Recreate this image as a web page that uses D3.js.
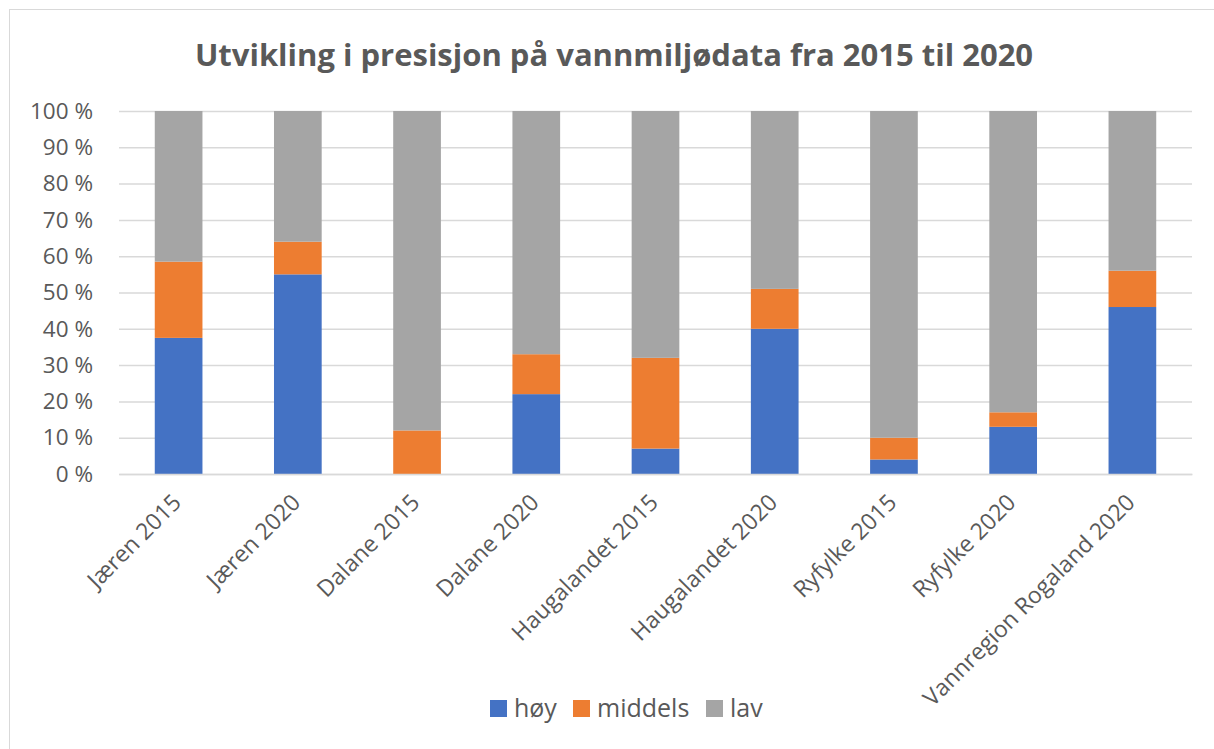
<!DOCTYPE html>
<html>
  <head>
    <meta charset="utf-8">
    <title>Utvikling i presisjon</title>
    <script src="https://cdn.jsdelivr.net/npm/d3@7"></script>
    <style>
      body { margin: 0; background: #fff; }
      text { font-family: "Open Sans", "Noto Sans", sans-serif; fill: #595959; }
    </style>
  </head>
  <body>
    <script type="text/javascript">

    var width = 1214,
        height = 749;

    var categories = ["Jæren 2015", "Jæren 2020", "Dalane 2015", "Dalane 2020", "Haugalandet 2015",
                      "Haugalandet 2020", "Ryfylke 2015", "Ryfylke 2020", "Vannregion Rogaland 2020"];
    var hoy     = [37.5, 55, 0, 22, 7, 40, 4, 13, 46];
    var middels = [21, 9, 12, 11, 25, 11, 6, 4, 10];
    var lav     = [41.5, 36, 88, 67, 68, 49, 90, 83, 44];
    var seriesNames = ["høy", "middels", "lav"];
    var yTicks = [0, 10, 20, 30, 40, 50, 60, 70, 80, 90, 100];

    var colors = {"høy": "#4472C4", "middels": "#ED7D31", "lav": "#A5A5A5"};

    var rows = categories.map(function(c, i) {
      return {cat: c, "høy": hoy[i], "middels": middels[i], "lav": lav[i]};
    });

    var margin = {left: 119, right: 22, top: 111, bottom: 275};

    var x = d3.scaleBand()
        .domain(categories)
        .range([margin.left, width - margin.right])
        .paddingInner(0.6)
        .paddingOuter(0.3);

    var y = d3.scaleLinear()
        .domain([0, 100])
        .range([height - margin.bottom, margin.top]);

    var svg = d3.select("body").append("svg")
        .attr("width", width)
        .attr("height", height);

    // chart border
    svg.append("rect")
        .attr("x", 9.5).attr("y", 9.5)
        .attr("width", width + 10).attr("height", height + 10)
        .attr("fill", "#fff")
        .attr("stroke", "#d9d9d9");

    svg.append("text")
        .attr("x", 614)
        .attr("y", 66)
        .attr("text-anchor", "middle")
        .style("font-size", "31px")
        .style("font-weight", "bold")
        .text("Utvikling i presisjon på vannmiljødata fra 2015 til 2020");

    // gridlines
    var yAxis = svg.append("g")
        .attr("transform", "translate(" + margin.left + ",0)")
        .call(d3.axisLeft(y)
          .tickValues(yTicks)
          .tickSize(-(width - margin.left - margin.right))
          .tickPadding(26)
          .tickFormat(function(d) { return d + " %"; }));

    yAxis.select(".domain").remove();
    yAxis.selectAll(".tick line").attr("stroke", "#d9d9d9").attr("stroke-width", 1.5);
    yAxis.selectAll(".tick text")
        .style("font-size", "22.5px")
        .attr("fill", "#595959");

    var stack = d3.stack().keys(seriesNames);

    svg.append("g")
      .selectAll("g")
      .data(stack(rows))
      .join("g")
        .attr("fill", function(d) { return colors[d.key]; })
      .selectAll("rect")
      .data(function(d) { return d; })
      .join("rect")
        .attr("x", function(d) { return x(d.data.cat); })
        .attr("y", function(d) { return y(d[1]); })
        .attr("height", function(d) { return y(d[0]) - y(d[1]); })
        .attr("width", x.bandwidth());

    // x axis
    var xAxis = svg.append("g")
        .attr("transform", "translate(0," + y(0) + ")")
        .call(d3.axisBottom(x).tickSize(0).tickPadding(0));

    xAxis.select(".domain").attr("stroke", "#d9d9d9").attr("stroke-width", 1.5);
    xAxis.selectAll(".tick text")
        .style("font-size", "23px")
        .attr("fill", "#595959")
        .attr("text-anchor", "end")
        .attr("dy", null)
        .attr("y", 0)
        .attr("transform", "translate(4,30) rotate(-45)");

    // legend
    var legendX = [490, 573, 706];
    var legend = svg.append("g")
      .selectAll("g")
      .data(seriesNames)
      .join("g")
        .attr("transform", function(d, i) { return "translate(" + legendX[i] + ",700)"; });

    legend.append("rect")
        .attr("width", 17).attr("height", 17)
        .attr("fill", function(d) { return colors[d]; });

    legend.append("text")
        .attr("x", 24)
        .attr("y", 17)
        .style("font-size", "25px")
        .text(function(d) { return d; });

    </script>
  </body>
</html>
